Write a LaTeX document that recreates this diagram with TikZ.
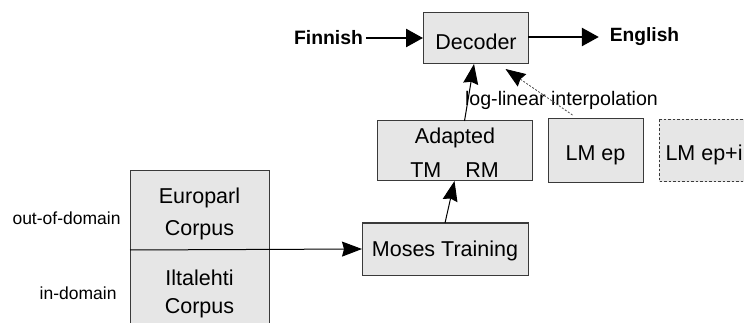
\documentclass[tikz,border=0pt]{standalone}
\usepackage{fontspec}
\setmainfont{Liberation Sans}
\usetikzlibrary{arrows.meta}
\definecolor{boxfill}{HTML}{E6E6E6}
\definecolor{boxline}{HTML}{3A3A3A}
\tikzset{
  box/.style={draw=boxline,fill=boxfill,line width=1pt,inner sep=0pt,outer sep=0pt},
  txt/.style={inner sep=0pt,outer sep=0pt,font=\fontsize{21.5}{25}\selectfont},
  small/.style={inner sep=0pt,outer sep=0pt,font=\fontsize{17.5}{21}\selectfont},
  bigarrow/.style={line width=2.6pt,-{Triangle[length=17pt,width=18pt]}},
  thinarrow/.style={line width=1pt,-{Stealth[length=20pt,width=15pt,inset=2pt]}},
  dotarrow/.style={line width=0.8pt,draw=black!70,dash pattern=on 2pt off 1.6pt,-{Stealth[length=20pt,width=15pt,inset=2pt,color=black,fill=black]}},
}
\begin{document}
\begin{tikzpicture}[x=1pt,y=-1pt]
\useasboundingbox (0,0) rectangle (744,323);
\clip (0,0) rectangle (744,323);
% Decoder
\node[box,minimum width=105pt,minimum height=51pt] (dec) at (475.5,38.5) {};
\node[txt] (dect) at (476,42) {Decoder};
\node[inner sep=0pt,outer sep=3pt,font=\fontsize{19.4}{23}\selectfont\bfseries] (fin) at (328.5,38) {Finnish};
\node[inner sep=0pt,outer sep=0pt,font=\fontsize{19.2}{23}\selectfont\bfseries] (eng) at (644.5,37) {English};
\draw[bigarrow] (fin.east) -- (fin.east -| dec.west);
\draw[bigarrow,shorten >=11pt] (dec.east |- eng.west) -- (eng.west);
% Adapted
\node[box,minimum width=155pt,minimum height=60pt] (ad) at (454.5,151) {};
\node[txt] (adt1) at (455,138) {Adapted};
\node[txt] (adt2) at (454.5,170) {TM\hspace{24pt}RM};
% LM ep
\node[box,minimum width=95pt,minimum height=64pt] (lm) at (595.5,151) {};
\node[txt] (lmt) at (595.5,155) {LM ep};
% LM ep+i (cut off)
\draw[box,dash pattern=on 2.5pt off 2pt] (659,119.5) rectangle (780,182);
\node[txt,anchor=west] (lm2t) at (665.5,155) {LM ep+i};
% log-linear
\node[inner sep=0pt,outer sep=0pt,font=\fontsize{19.6}{23}\selectfont] (ll) at (561.5,100) {log-linear interpolation};
% arrows into decoder
\draw[thinarrow] ([xshift=10pt]ad.north) -- ([xshift=-1.5pt]dec.south);
\draw[dotarrow] ([xshift=-23pt,yshift=4pt]lm.north) -- ([xshift=30pt,yshift=-5pt]dec.south);
% Moses
\node[box,minimum width=166pt,minimum height=52pt] (mos) at (445,249) {};
\node[txt] (most) at (445,250.5) {Moses Training};
\draw[thinarrow] (mos.north) -- ([xshift=0pt]ad.south);
% corpus box
\draw[box] (130,171) rectangle (269,345);
\node[txt] (eu1) at (199.5,198) {Europarl};
\node[txt] (eu2) at (199.5,230) {Corpus};
\node[txt] (il1) at (199.5,278) {Iltalehti};
\node[txt] (il2) at (199.5,308) {Corpus};
\coordinate (div) at (130,250);
\draw[thinarrow] (div) -- (mos.west);
\node[small,anchor=east] (ood) at (120.5,218) {out-of-domain};
\node[small,anchor=east] (ind) at (116.5,293) {in-domain};
\end{tikzpicture}
\end{document}
